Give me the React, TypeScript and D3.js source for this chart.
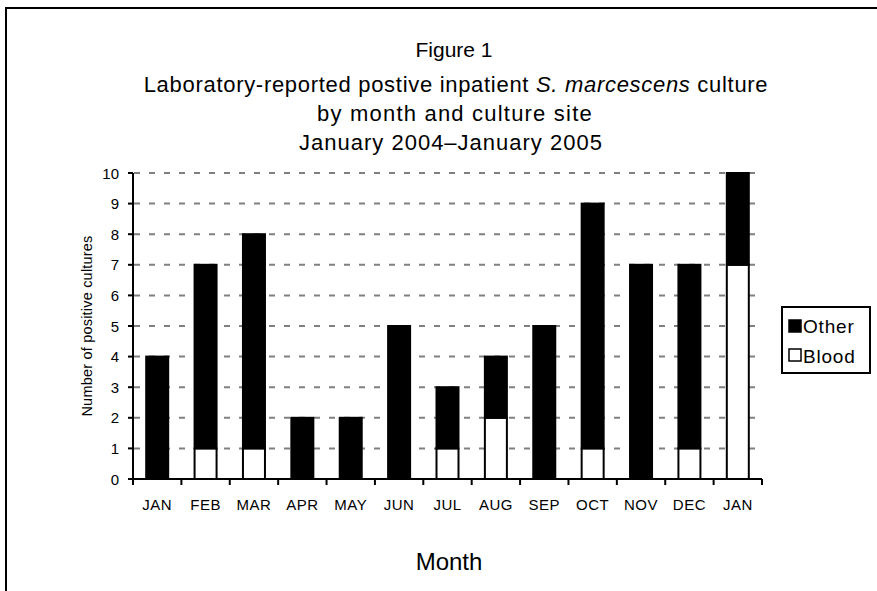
import React from "react";
import * as d3 from "d3";

const months = ["JAN", "FEB", "MAR", "APR", "MAY", "JUN", "JUL", "AUG", "SEP", "OCT", "NOV", "DEC", "JAN"];
const blood = [0, 1, 1, 0, 0, 0, 1, 2, 0, 1, 0, 1, 7];
const other = [4, 6, 7, 2, 2, 5, 2, 2, 5, 8, 7, 6, 3];
const yTicks = [0, 1, 2, 3, 4, 5, 6, 7, 8, 9, 10];

const W = 877, H = 591;
const left = 133, right = 762, top = 173, bottom = 479;
const FONT = "Liberation Sans, Arial, sans-serif";

export default function App() {
  const idx = months.map((_, i) => i);
  const x = d3.scaleBand<number>().domain(idx).range([left, right]).paddingInner(0).paddingOuter(0);
  const y = d3.scaleLinear().domain([0, 10]).range([bottom, top]);
  const bw = 22;
  const stackData = idx.map((i) => ({ i, blood: blood[i], other: other[i] }));
  const stacked = d3.stack<any>().keys(["blood", "other"])(stackData);

  return (
    <svg width={W} height={H} style={{ position: "absolute", left: 0, top: 0, background: "#fff" }} fontFamily={FONT}>
      <rect x={6} y={8} width={W + 20} height={H + 20} fill="#fff" stroke="#000" strokeWidth={2} />
      <g fontSize={22} textAnchor="middle" fill="#000" style={{ whiteSpace: "pre" }}>
        <text x={454} y={57} fontSize={21}>Figure 1</text>
        <text x={456} y={92} letterSpacing={0.7}>Laboratory-reported postive inpatient <tspan fontStyle="italic">S. marcescens</tspan>  culture</text>
        <text x={455} y={121} letterSpacing={1.2}>by month and culture site</text>
        <text x={451} y={150} letterSpacing={1}>January 2004–January 2005</text>
      </g>
      {/* gridlines */}
      {yTicks.filter((t) => t > 0).map((t) => (
        <line key={"g" + t} x1={left + 1} x2={right} y1={y(t)} y2={y(t)} stroke="#808080" strokeWidth={2} strokeDasharray="6,9" />
      ))}
      {/* bars */}
      {stacked.map((s) =>
        s.map((d, i) => {
          const h = y(d[0]) - y(d[1]);
          if (h <= 0) return null;
          const cx = (x(i) as number) + x.bandwidth() / 2;
          return (
            <rect key={s.key + i} x={cx - bw / 2} y={y(d[1])} width={bw} height={h}
              fill={s.key === "other" ? "#000" : "#fff"} stroke="#000" strokeWidth={2} />
          );
        })
      )}
      {/* y axis */}
      <line x1={left} x2={left} y1={top} y2={bottom} stroke="#000" strokeWidth={2} />
      {yTicks.map((t) => (
        <g key={"y" + t}>
          <line x1={left - 5} x2={left} y1={y(t)} y2={y(t)} stroke="#000" strokeWidth={2} />
          <text x={left - 14} y={y(t) + 5.5} fontSize={15} textAnchor="end">{t}</text>
        </g>
      ))}
      {/* x axis */}
      <line x1={left - 5} x2={right} y1={bottom} y2={bottom} stroke="#000" strokeWidth={2} />
      {idx.concat([months.length]).map((i) => {
        const xx = i < months.length ? (x(i) as number) : right;
        return <line key={"xt" + i} x1={xx} x2={xx} y1={bottom} y2={bottom + 6} stroke="#000" strokeWidth={2} />;
      })}
      {months.map((m, i) => (
        <text key={"xl" + i} x={(x(i) as number) + x.bandwidth() / 2} y={510} fontSize={15} letterSpacing={0.5} textAnchor="middle">{m}</text>
      ))}
      <text x={449} y={570} fontSize={24} textAnchor="middle">Month</text>
      <text transform={`translate(92,${(top + bottom) / 2}) rotate(-90)`} fontSize={14.5} letterSpacing={0.2} textAnchor="middle">Number of positive cultures</text>
      {/* legend */}
      <rect x={782} y={307} width={88} height={66} fill="#fff" stroke="#000" strokeWidth={2} />
      <rect x={789} y={320} width={12} height={12} fill="#000" stroke="#000" strokeWidth={1.5} />
      <text x={803} y={333} fontSize={19} letterSpacing={0.8}>Other</text>
      <rect x={789} y={349} width={12} height={12} fill="#fff" stroke="#000" strokeWidth={1.5} />
      <text x={803} y={363} fontSize={19} letterSpacing={0.8}>Blood</text>
    </svg>
  );
}
